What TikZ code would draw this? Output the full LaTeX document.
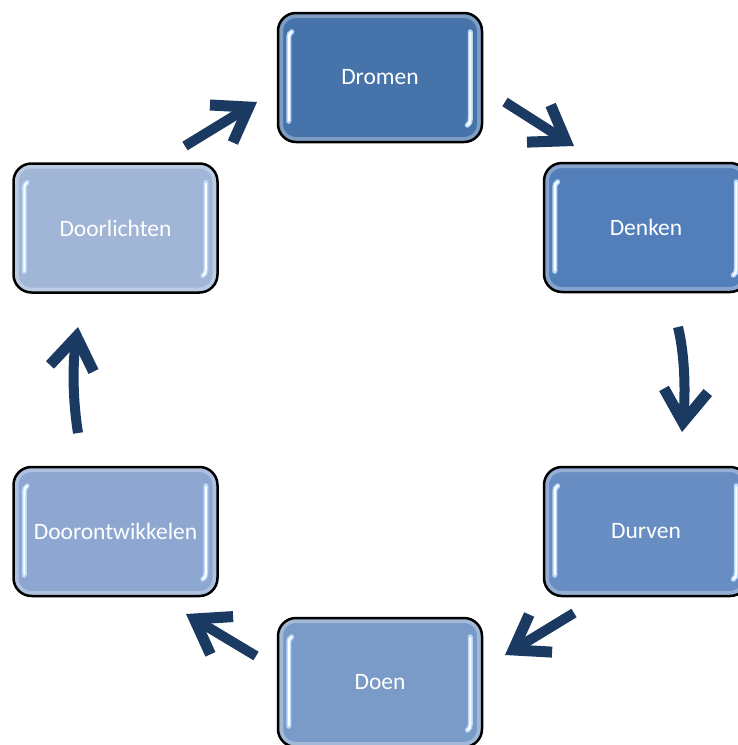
\documentclass[tikz,border=0pt]{standalone}
\usepackage{fontspec}
\setmainfont{Carlito}
\usetikzlibrary{arrows.meta,calc}
\definecolor{arrowblue}{RGB}{27,58,98}
\definecolor{cDromen}{RGB}{70,115,170}
\definecolor{cDenken}{RGB}{82,127,185}
\definecolor{cDurven}{RGB}{104,141,194}
\definecolor{cDoen}{RGB}{122,155,200}
\definecolor{cDoorontw}{RGB}{141,167,208}
\definecolor{cDoorl}{RGB}{161,181,214}
\definecolor{glossedge}{RGB}{185,215,248}
\newcommand\glossbox[1]{%
  \draw[gloss] ($(#1.north west)+(15,20)$) to[out=210,in=90] ($(#1.north west)+(12,26)$) -- ($(#1.south west)+(12,-22)$);
  \draw[glosscore] ($(#1.north west)+(15,20)$) to[out=210,in=90] ($(#1.north west)+(12,26)$) -- ($(#1.south west)+(12,-23)$);
  \draw[gloss] ($(#1.north east)+(-13,20)$) -- ($(#1.south east)+(-13,-24)$) to[out=270,in=30] ($(#1.south east)+(-16,-18)$);
  \draw[glosscore] ($(#1.north east)+(-13,21)$) -- ($(#1.south east)+(-13,-24)$) to[out=270,in=30] ($(#1.south east)+(-16,-18)$);
}
\begin{document}
\begin{tikzpicture}[x=1pt,y=-1pt,
  box/.style={draw=black, line width=2.5pt, rounded corners=18pt,
    minimum width=204pt, minimum height=129pt, inner sep=0pt, text=white,
    font=\fontsize{23.5}{28}\selectfont,
    path picture={\draw[white,opacity=0.3,line width=10pt,rounded corners=18pt]
      (path picture bounding box.north west) rectangle (path picture bounding box.south east);}},
  flow/.style={arrowblue, line width=10pt, -{Straight Barb[length=32pt,width=44pt,line width=11pt]}},
  gloss/.style={glossedge, line width=5pt, line cap=round},
  glosscore/.style={white, line width=2pt, line cap=round},
]
\useasboundingbox (0,0) rectangle (738,745);
\clip (0,0) rectangle (738,745);
\fill[white] (0,0) rectangle (738,745);

\node[box, fill=cDromen] (dromen) at (380,77.5) {Dromen};
\node[box, fill=cDenken] (denken) at (646,227.5) {Denken};
\node[box, fill=cDurven] (durven) at (646,531.5) {Durven};
\node[box, fill=cDoen] (doen) at (380,682.5) {Doen};
\node[box, fill=cDoorontw] (doorontw) at (115.5,531.5) {Doorontwikkelen};
\node[box, fill=cDoorl] (doorl) at (115.5,228) {Doorlichten};

\glossbox{dromen}
\glossbox{denken}
\glossbox{durven}
\glossbox{doen}
\glossbox{doorontw}
\glossbox{doorl}

\coordinate (a1s) at (185,146); \coordinate (a1e) at (257,102);
\coordinate (a2s) at (505,102); \coordinate (a2e) at (574,146);
\coordinate (a3s) at (678,327); \coordinate (a3e) at (682,432);
\coordinate (a4s) at (574,613); \coordinate (a4e) at (505,655);
\coordinate (a5s) at (256,656); \coordinate (a5e) at (186,614);
\coordinate (a6s) at (78,433);  \coordinate (a6e) at (78,327);

\draw[flow] (a1s) -- (a1e);
\draw[flow] (a2s) -- (a2e);
\draw[flow] (a3s) .. controls (686,360) and (685,400) .. (a3e);
\draw[flow] (a4s) -- (a4e);
\draw[flow] (a5s) -- (a5e);
\draw[flow] (a6s) .. controls (72,395) and (73,360) .. (a6e);
\end{tikzpicture}
\end{document}
